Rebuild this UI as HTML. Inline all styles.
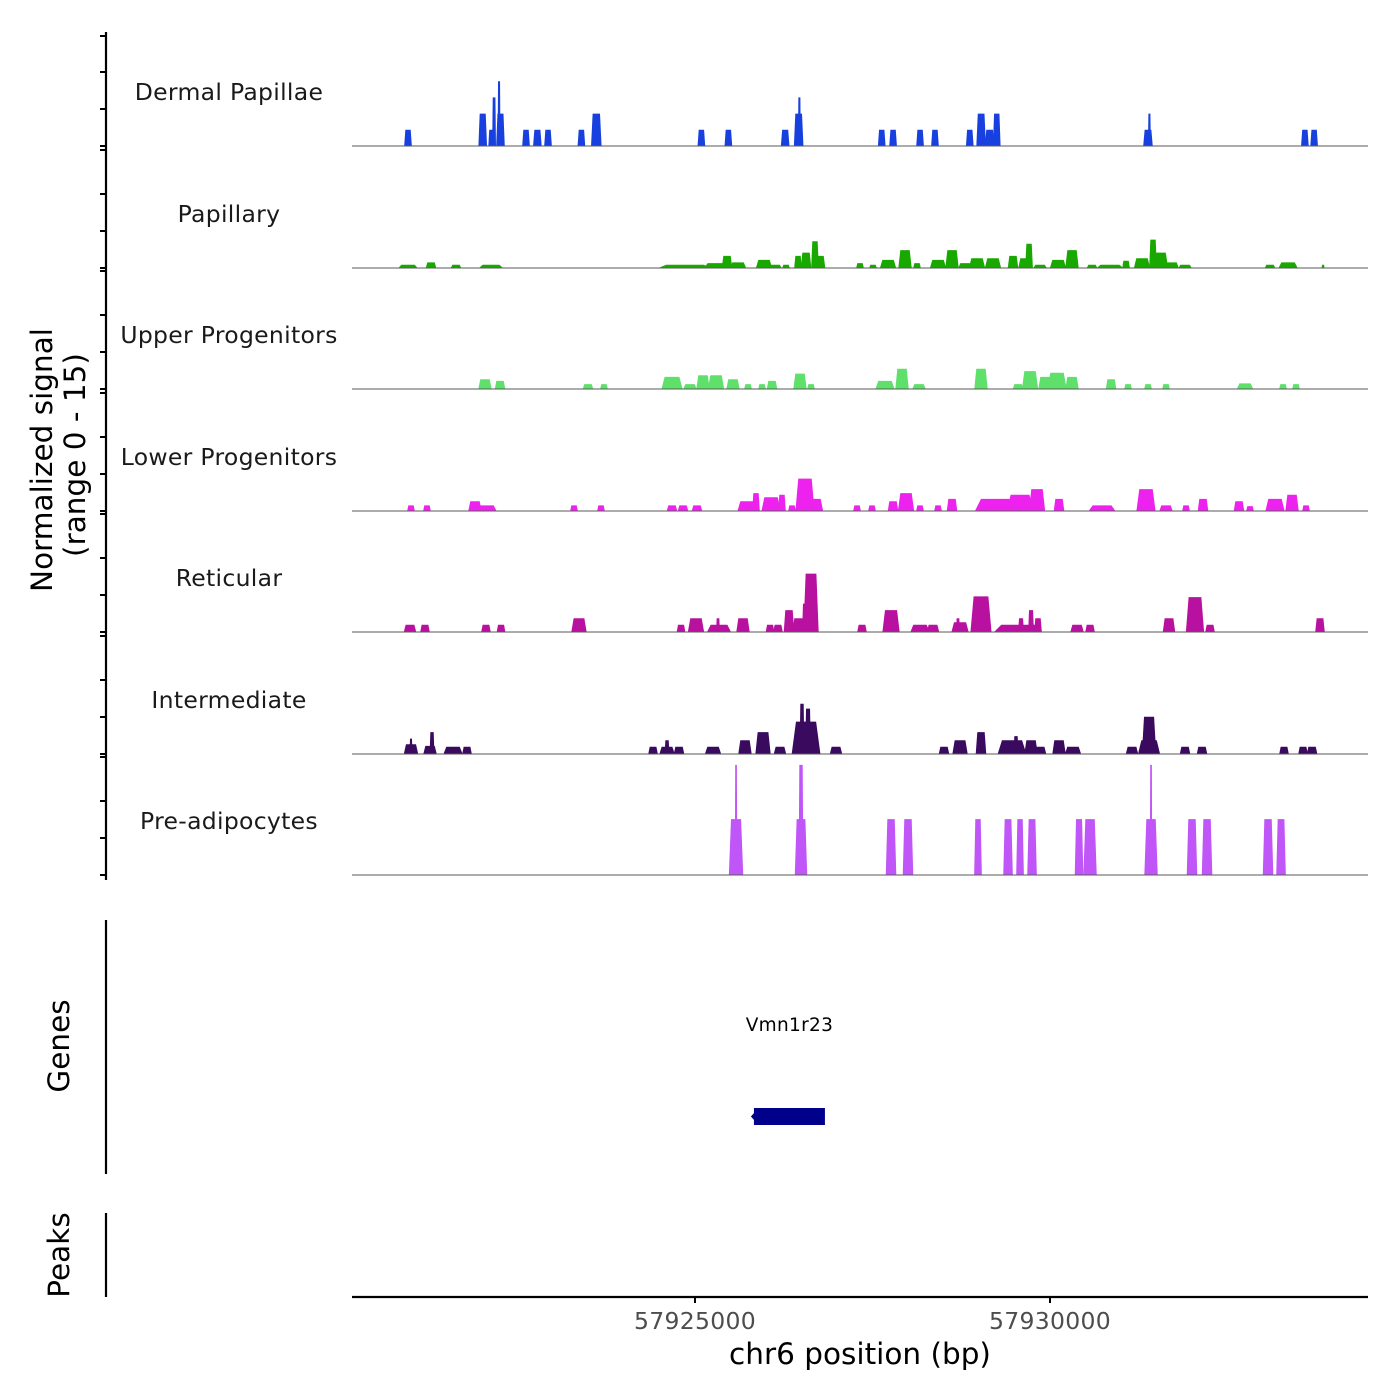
<!DOCTYPE html>
<html><head><meta charset="utf-8"><style>
html,body{margin:0;padding:0;background:#fff;}
svg{display:block;font-family:"DejaVu Sans","Liberation Sans",sans-serif;}
</style></head><body>
<svg id="chart" width="1400" height="1400" viewBox="0 0 1400 1400" xmlns="http://www.w3.org/2000/svg">
<rect width="1400" height="1400" fill="#fff"/>
<g id="tracks"></g>
<g id="labels"></g>
<line x1="106" y1="32" x2="106" y2="880" stroke="#000" stroke-width="2.2"/>
<g id="yticks"></g>
<text transform="translate(52,460) rotate(-90)" text-anchor="middle" font-size="29.5" fill="#000">Normalized signal</text>
<text transform="translate(85,455) rotate(-90)" text-anchor="middle" font-size="29.5" fill="#000">(range 0 - 15)</text>
<line x1="106" y1="920" x2="106" y2="1174" stroke="#000" stroke-width="2.2"/>
<text transform="translate(69,1046) rotate(-90)" text-anchor="middle" font-size="29.5" fill="#000">Genes</text>
<line x1="106" y1="1213" x2="106" y2="1297" stroke="#000" stroke-width="2.2"/>
<text transform="translate(69,1255) rotate(-90)" text-anchor="middle" font-size="29.5" fill="#000">Peaks</text>
<g id="genes"></g>
<line x1="352" y1="1297" x2="1368" y2="1297" stroke="#000" stroke-width="2.2"/>
<g id="xticks"></g>
<text x="860" y="1364" text-anchor="middle" font-size="29.5" fill="#000">chr6 position (bp)</text>
</svg>
<script>
const trackNames = ["Dermal Papillae","Papillary","Upper Progenitors","Lower Progenitors","Reticular","Intermediate","Pre-adipocytes"];
const trackColors = ["#1740df","#19a800","#5ee06b","#ee22ee","#b8119f","#3a0a5e","#c055f8"];
const xTickValues = [57925000, 57930000];
const xTickLabels = ["57925000","57930000"];
// peaks: position (bp), width (bp), height (signal)
const dermalPos = [57920958,57922010,57922130,57922170,57922240,57922260,57922620,57922780,57922930,57923400,57923610,57925090,57925470,57926270,57926460,57926470,57927630,57927790,57928170,57928380,57928870,57929030,57929150,57929250,57931380,57931400,57933590,57933720];
const dermalW =   [80,90,60,40,30,90,80,90,80,80,110,80,80,90,100,30,80,80,80,80,80,100,100,80,100,30,80,80];
const dermalH =   [2,4,2,6,8,4,2,2,2,2,4,2,2,2,4,6,2,2,2,2,2,4,2,4,2,4,2,2];
const papillaryPos = [57920958,57921282,57921634,57922127,57924859,57925296,57925451,57925606,57925972,57926127,57926282,57926451,57926564,57926690,57926761,57927324,57927507,57927719,57927958,57928127,57928423,57928620,57928803,57928972,57929197,57929479,57929648,57929705,57929860,57930113,57930310,57930592,57930845,57931071,57931296,57931451,57931550,57931719,57931902,57933099,57933353,57933846];
const papillaryW = [200,110,110,250,560,250,110,170,170,140,80,80,110,80,110,80,80,170,140,80,170,140,140,170,170,110,140,80,140,170,140,110,280,80,170,80,170,140,140,110,200,30];
const papillaryH = [0.4,0.7,0.4,0.4,0.4,0.6,1.5,0.7,1.0,0.4,0.4,1.5,1.9,3.3,1.5,0.6,0.4,1.0,2.2,0.6,1.0,2.2,0.6,1.2,1.2,1.5,1.2,3.0,0.4,1.0,2.2,0.4,0.4,0.9,1.2,3.5,1.9,0.7,0.4,0.4,0.7,0.4];
const upperPos = [57922042,57922254,57923493,57923718,57924676,57924930,57925113,57925296,57925535,57925747,57925944,57926085,57926479,57926634,57927676,57927916,57928155,57929028,57929550,57929719,57929930,57930099,57930310,57930860,57931099,57931381,57931634,57932747,57933282,57933465];
const upperW = [140,110,110,80,220,140,140,170,140,80,80,110,140,80,200,140,140,140,110,170,140,200,140,110,80,80,80,170,80,80];
const upperH = [1.2,1.0,0.6,0.6,1.5,0.6,1.7,1.7,1.2,0.6,0.6,1.0,1.9,0.6,1.0,2.5,0.6,2.5,0.6,2.2,1.5,2.0,1.5,1.2,0.6,0.6,0.6,0.7,0.6,0.6];
const lowerPos = [57921000,57921225,57921901,57922070,57923296,57923676,57924676,57924831,57925028,57925733,57925859,57926071,57926225,57926366,57926549,57926690,57927282,57927493,57927789,57927972,57928169,57928423,57928620,57929226,57929578,57929817,57930127,57930733,57931352,57931634,57931916,57932155,57932662,57932817,57933169,57933409,57933606];
const lowerW = [80,80,140,200,80,80,110,110,110,200,80,200,80,80,200,170,80,80,110,170,80,80,110,420,280,170,110,280,200,140,80,110,110,80,200,140,80];
const lowerH = [0.7,0.7,1.2,0.7,0.7,0.7,0.7,0.7,0.7,1.2,2.2,1.7,2.0,0.7,4.0,1.5,0.7,0.7,1.2,2.2,0.7,0.7,1.5,1.5,2.0,2.7,1.5,0.7,2.7,0.7,0.7,1.5,1.2,0.6,1.5,2.0,0.7];
const reticularPos = [57920986,57921197,57922056,57922268,57923366,57924803,57925014,57925338,57925324,57925676,57926057,57926169,57926324,57926465,57926634,57926549,57927352,57927761,57928169,57928352,57928733,57928704,57929028,57928958,57929550,57929592,57929733,57929831,57930381,57930564,57931676,57932042,57932254,57933803];
const reticularW = [130,100,100,90,160,90,170,250,40,140,90,100,110,140,160,60,100,180,200,130,180,40,220,100,500,60,60,80,140,100,130,190,100,100];
const reticularH = [0.9,0.9,0.9,0.9,1.7,0.9,1.7,0.9,1.7,1.7,0.9,0.9,2.7,1.7,7.2,3.5,0.9,2.7,0.9,0.9,1.2,1.7,4.4,2.0,0.9,1.7,2.7,1.7,0.9,0.9,1.7,4.3,0.9,1.7];
const interPos = [57921000,57921000,57921268,57921296,57921592,57921789,57924409,57924606,57924606,57924775,57925254,57925704,57925958,57926197,57926564,57926507,57926592,57926986,57928507,57928733,57929028,57929465,57929521,57929733,57929860,57930127,57930324,57931155,57931395,57931395,57931902,57932141,57933296,57933564,57933691];
const interW = [150,30,140,50,200,100,100,160,50,110,170,140,160,130,300,50,60,130,110,160,110,300,50,140,130,140,170,130,230,150,110,110,100,100,110];
const interH = [1.2,1.9,1.0,2.7,0.9,0.9,0.9,0.9,1.7,0.9,0.9,1.7,2.7,0.9,4.0,6.2,5.6,0.9,0.9,1.7,2.7,1.7,2.2,1.7,0.9,1.7,0.9,0.9,1.7,4.6,0.9,0.9,0.9,0.9,0.9];
const prePos = [57925578,57925578,57926493,57926493,57927761,57928000,57928986,57929409,57929578,57929747,57930409,57930564,57931423,57931423,57932000,57932212,57933071,57933254];
const preW = [150,25,130,50,110,110,80,100,80,100,90,140,140,25,110,110,110,100];
const preH = [6.9,13.6,6.9,13.6,6.9,6.9,6.9,6.9,6.9,6.9,6.9,6.9,6.9,13.6,6.9,6.9,6.9,6.9];

const trackPos = [dermalPos,papillaryPos,upperPos,lowerPos,reticularPos,interPos,prePos];
const trackW = [dermalW,papillaryW,upperW,lowerW,reticularW,interW,preW];
const trackH = [dermalH,papillaryH,upperH,lowerH,reticularH,interH,preH];
const geneName = "Vmn1r23";
const geneStart = 57925830, geneEnd = 57926830;

const NS = "http://www.w3.org/2000/svg";
function xScale(bp){ return 695 + (bp - 57925000) * 355 / 5000; }
const baselines = [146,268,389,511,632,754,875];
function yScale(v, i){ return baselines[i] - v * 8.1; }
function mk(tag, attrs, parent){ const e=document.createElementNS(NS,tag); for(const k in attrs) e.setAttribute(k,attrs[k]); parent.appendChild(e); return e; }

const tracksG = document.getElementById("tracks");
const labelsG = document.getElementById("labels");
for(let i=0;i<trackNames.length;i++){
  const g = mk("g",{},tracksG);
  
  
  const b = baselines[i];
  for(let j=0;j<trackPos[i].length;j++){
    const c = xScale(trackPos[i][j]);
    const hw = Math.max(trackW[i][j]*355/5000/2*1.35, 1.2);
    const top = yScale(trackH[i][j], i);
    const tw = hw*0.7;
    const p = mk("polygon",{points:`${c-hw},${b} ${c-tw},${top} ${c+tw},${top} ${c+hw},${b}`, fill:trackColors[i]}, g);
    
    
  }
  const l = mk("line",{x1:352,y1:b,x2:1368,y2:b,stroke:"#5a5a5a","stroke-width":1.1},g);
  
  
  const t = mk("text",{x:229,y:b-46,"text-anchor":"middle","font-size":23.5,fill:"#1a1a1a","letter-spacing":"0.3"},labelsG);
  t.textContent = trackNames[i];
  
  
}
const ytG = document.getElementById("yticks");
for(let i=0;i<baselines.length;i++){
  const b = baselines[i];
  const offs = [0,37,74, i===0?110:118];
  for(const o of offs){
    const tk = mk("line",{x1:100,y1:b-o,x2:106,y2:b-o,stroke:"#000","stroke-width":2},ytG);
    
    
  }
}
const genesG = document.getElementById("genes");
const gx1 = xScale(geneStart), gx2 = xScale(geneEnd);
const gl = mk("text",{x:(gx1+gx2)/2,y:1031,"text-anchor":"middle","font-size":18.5,fill:"#000","letter-spacing":"0.3"},genesG);
gl.textContent = geneName;


const gr = mk("rect",{x:gx1,y:1108,width:gx2-gx1,height:17,fill:"#00008b"},genesG);


const ga = mk("polygon",{points:`${gx1-3},1116.5 ${gx1+1},1112 ${gx1+1},1121`,fill:"#00008b"},genesG);


const xtG = document.getElementById("xticks");
for(let i=0;i<xTickValues.length;i++){
  const x = xScale(xTickValues[i]);
  const tk = mk("line",{x1:x,y1:1297,x2:x,y2:1303,stroke:"#000","stroke-width":2},xtG);
  
  
  const tl = mk("text",{x:x,y:1329,"text-anchor":"middle","font-size":23.5,fill:"#4d4d4d","letter-spacing":"0.3"},xtG);
  tl.textContent = xTickLabels[i];
  
  
}
</script>
</body></html>
